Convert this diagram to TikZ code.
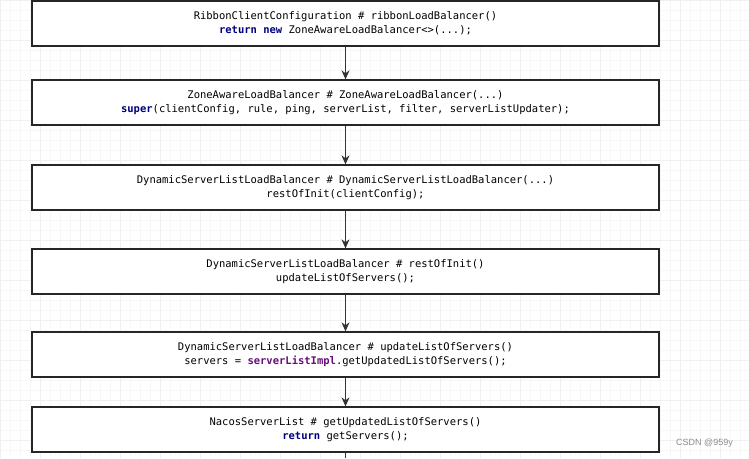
\documentclass[tikz,border=0pt]{standalone}
\usepackage{fontspec}
\setmainfont{DejaVu Sans Mono}
\newfontfamily\wmfont{Liberation Sans}
\usetikzlibrary{arrows.meta}
\definecolor{kw}{HTML}{000080}
\definecolor{fld}{HTML}{660E7A}
\definecolor{gridminor}{HTML}{F7F7F7}
\definecolor{gridmajor}{HTML}{F0F0F0}
\definecolor{boxline}{HTML}{262626}
\newcommand{\kwd}[1]{\textcolor{kw}{\bfseries #1}}
\newcommand{\fldd}[1]{\textcolor{fld}{\bfseries #1}}
\begin{document}
\begin{tikzpicture}[x=1pt,y=-1pt,
  box/.style={draw=boxline, line width=1.3pt, fill=white, minimum width=627pt,
    minimum height=45pt, inner sep=0pt, align=center,
    font=\fontsize{10.5}{14}\selectfont},
  link/.style={draw=black!80, line width=1.1pt, -{Stealth[length=9pt,width=8pt]}},
  plain/.style={draw=black!80, line width=1.1pt}]
\useasboundingbox (0,0) rectangle (749,458);
\fill[white] (0,0) rectangle (749,458);
\draw[gridminor, line width=0.6pt] (0,0) grid[step=10pt] (749,458);
\draw[gridmajor, line width=0.8pt] (0,0) grid[step=40pt] (749,458);

\coordinate (top) at (345.5,0);
\coordinate (bot) at (345.5,458);

\node[box] (b1) at (345.5,23.5) {RibbonClientConfiguration \# ribbonLoadBalancer()\\ \kwd{return} \kwd{new} ZoneAwareLoadBalancer<>(...);};
\node[box] (b2) at (345.5,102.5) {ZoneAwareLoadBalancer \# ZoneAwareLoadBalancer(...)\\ \kwd{super}(clientConfig, rule, ping, serverList, filter, serverListUpdater);};
\node[box] (b3) at (345.5,187.5) {DynamicServerListLoadBalancer \# DynamicServerListLoadBalancer(...)\\ restOfInit(clientConfig);};
\node[box] (b4) at (345.5,271.5) {DynamicServerListLoadBalancer \# restOfInit()\\ updateListOfServers();};
\node[box] (b5) at (345.5,354.5) {DynamicServerListLoadBalancer \# updateListOfServers()\\ servers = \fldd{serverListImpl}.getUpdatedListOfServers();};
\node[box] (b6) at (345.5,429.5) {NacosServerList \# getUpdatedListOfServers()\\ \kwd{return} getServers();};

\draw[plain] (top) -- (b1.north);
\draw[link] (b1.south) -- (b2.north);
\draw[link] (b2.south) -- (b3.north);
\draw[link] (b3.south) -- (b4.north);
\draw[link] (b4.south) -- (b5.north);
\draw[link] (b5.south) -- (b6.north);
\draw[plain] (b6.south) -- (bot);

\node[font=\wmfont\fontsize{9}{10}\selectfont, text=black!45, anchor=east, inner sep=0pt] (wm) at (733,443) {CSDN @959y};
\end{tikzpicture}
\end{document}
